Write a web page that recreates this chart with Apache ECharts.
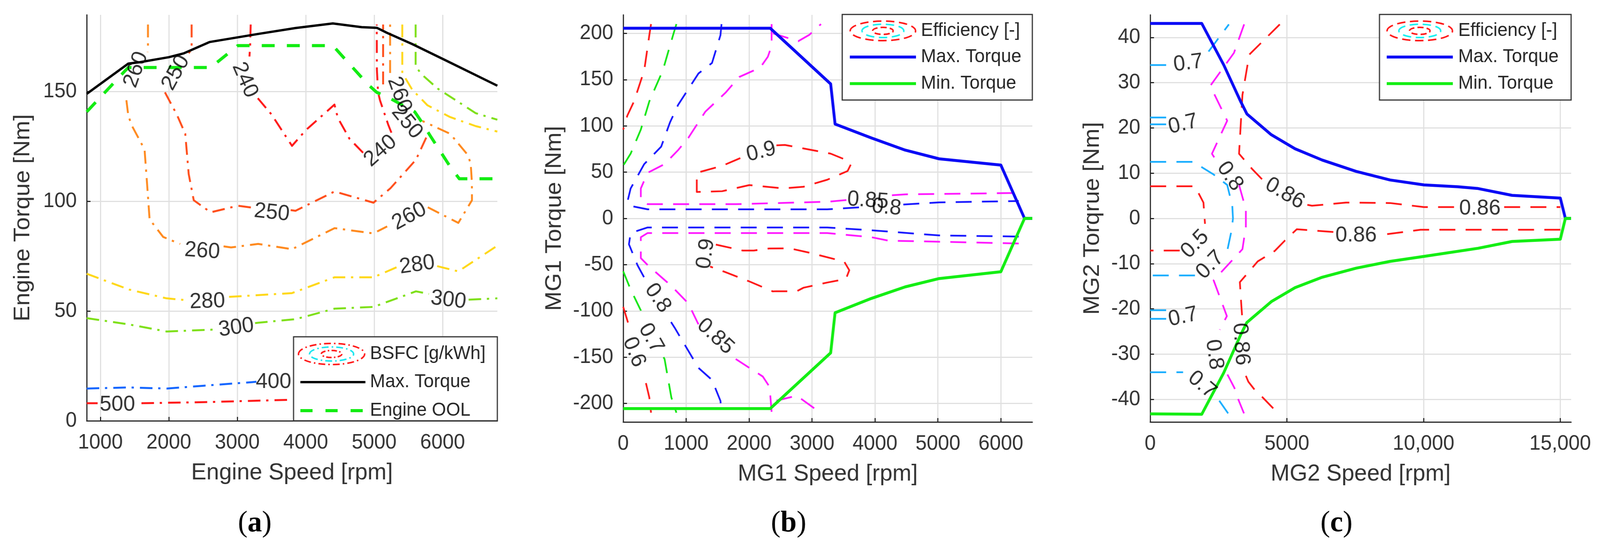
<!DOCTYPE html>
<html><head><meta charset="utf-8">
<script src="https://cdn.jsdelivr.net/npm/echarts@6/dist/echarts.min.js"></script>
<style>html,body{margin:0;padding:0;background:#fff;overflow:hidden}#c{width:4208px;height:1400px;transform-origin:0 0}</style>
</head><body><div id="c"></div>
<script>
// ---------------- DATA ----------------
// tick labels
const engSpeedTicks = [1000, 2000, 3000, 4000, 5000, 6000];
const engTorqueTicks = [0, 50, 100, 150];
const mg1SpeedTicks = [0, 1000, 2000, 3000, 4000, 5000, 6000];
const mg1TorqueTicks = [-200, -150, -100, -50, 0, 50, 100, 150, 200];
const mg2SpeedTicks = [0, 5000, 10000, 15000];
const mg2TorqueTicks = [-40, -30, -20, -10, 0, 10, 20, 30, 40];

// (a) engine
const engMaxTorque = [[800,149],[1408,162.8],[1574,163.4],[2000,165.7],[2222,167.5],[2593,172.6],[3305,176.3],[3851,179],[4396,181.1],[4817,179.4],[5039,179.1],[5187,176.8],[5556,171.7],[6022,164.6],[6800,152.7]];
const engOOL = [[800,140.8],[1370,159.8],[1408,161],[2611,161],[3008,171],[4396,171],[4909,153.3],[5037,149.7],[5241,146.8],[5593,140.8],[5685,136.6],[5815,130.1],[6111,115.8],[6244,110.3],[6800,110.3]];
const bsfc240 = [[3196,180.6],[3188,171],[3178,166],null,[3300,147],[3500,139.6],[3800,125.3],[4000,132.4],[4420,144.1],[4470,138],[4640,128.5],[4846,121.9],null,[5252,131.3],[5206,134.9],[5085,146.1],[5057,149.7],[5040,160],[5038,180.6]];
const bsfc250 = [[2333,180.6],[2333,169.3],[2290,167.5],null,[1943,149.7],[2116,139.6],[2240,130.8],[2290,112.5],[2364,100.5],[2611,95],[3008,98],[3250,97],null,[3780,96],[3851,95.7],[4421,104.5],[4990,99.4],[5239,106],[5611,119],[5778,130.2],null,[5131,153.3],[5131,180.6]];
const bsfc260 = [[1695,180.6],[1695,171],[1690,168],null,[1380,146.1],[1408,139],[1463,134.3],[1645,123.7],[1679,109.3],[1719,91.8],[1917,83.8],[2165,80.6],null,[2800,79.5],[2909,79],[3305,80.6],[3800,78.2],[4421,87.8],[4990,85.4],[5190,88.6],null,[5784,97.3],[6230,90.2],[6429,100.5],[6428,108.7],[6411,117],[6372,121],[6111,130.8],[5706,136.6],null,[5233,158.5],[5233,180.6]];
const bsfc280 = [[800,67],[1421,59.8],[1967,55.8],[2250,55],null,[2880,56.5],[2958,56.6],[3800,58.2],[4421,65.4],[4990,65.4],[5330,70],null,[5920,70.5],[6230,68.1],[6800,79.8],null,[5411,180.6],[5411,158.5],[5556,150.9],[5778,143.8],[6111,138.4],[6483,134.3],[6800,131.8]];
const bsfc300 = [[800,46.8],[1421,43.9],[1967,40.7],[2611,41.5],[2700,41.8],null,[3260,44.5],[3305,44.7],[3851,46.3],[4421,51.1],[4990,51.9],[5611,59],[5800,57.8],null,[6380,55.2],[6528,55.4],[6800,55.8],null,[5606,180.6],[5606,161.6],[5689,158],[5928,151.4],[6222,145.5],[6483,140.2],[6800,137.2]];
const bsfc400 = [[800,14.7],[1421,15.2],[1967,14.7],[2512,16],[3206,17.6],[3280,17.8]];
const bsfc500 = [[800,8],[960,8],null,[1600,8],[2512,8.5],[3800,9.6]];
// [speed, torque, text, angle]
const bsfcLabels = [
  [1521,160,'260',70],[2102,158.6,'250',61],[3110,155.3,'240',-66],[5093,123,'240',41],
  [5368,148.6,'260',-70],[5479,136.1,'250',-50],[3505,94.8,'250',-6],[2488,77.3,'260',-4],
  [5514,93.2,'260',28],[2563,54.3,'280',2],[5628,71,'280',8],[2985,42.4,'300',8],
  [6085,55,'300',-7],[3530,17.7,'400',0],[1248,7.4,'500',0]
];

// (b) MG1
const mg1MaxTorque = [[0,205.5],[2337,205.5],[3296,145.3],[3366,102],[3942,87],[4480,73.8],[5019,64.4],[6000,57.6],[6376,0],[6500,0]];
const mg1MinTorque = [[0,-205.5],[2337,-205.5],[3296,-145.3],[3366,-102],[3942,-86.5],[4480,-74],[5019,-65],[6000,-57.6],[6376,0],[6500,0]];
const mg1Eff06 = [[442,210],[415,198],[334,160],[172,126.5],[65,111],[0,96],null,[0,-95.6],[110,-120],null,[361,-178],[415,-193.5],[442,-210]];
const mg1Eff07 = [[845,210],[792,198],[630,160],[415,126.5],[280,96],[118,70],[0,57],null,[0,-57.2],[118,-76.8],[280,-99.4],[300,-108],null,[640,-150],[657,-152],[765,-193.5],[845,-210]];
const mg1Eff08 = [[1562,210],[1545,198],[1411,168],[1195,156.6],[872,122.7],[744,103.9],[603,77.5],[334,58.7],[118,32.4],[65,17.3],[118,13.5],[388,9.8],[3242,9.8],[3403,10.5],[3900,12.5],null,[4450,15],[5019,17.3],[6284,18.8],null,[6284,-19.6],[5019,-18.4],[3942,-12.8],[3242,-9.8],[388,-9.8],[118,-15.8],[91,-27.9],[226,-50.4],[350,-66],null,[760,-112],[818,-118.2],[1195,-161.5],[1411,-174.6],[1545,-197.2],[1562,-210]];
const mg1Eff085 = [[2358,210],[2358,186.5],[2298,174.7],[2177,163],[1842,152.8],[1626,135.9],[1303,115.2],[1034,87],[872,73.8],[657,58.7],[388,49.3],[280,32.4],[280,19.2],[388,15.4],[1788,15.4],[3242,18],[3580,20],null,[4270,25],[4480,26],[6284,27.5],null,[2380,200],[2569,196],[2780,191.5],[2961,198.6],[3142,210],null,[6284,-27.1],[4211,-24],[3942,-20.3],[3242,-15.8],[388,-15.8],[280,-20.3],[280,-42.9],[388,-50.4],[765,-73],[1034,-91.8],[1195,-114.4],null,[1788,-152],[2218,-170.9],[2326,-182.2],[2359,-210],null,[2434,-197],[2757,-191.6],[3134,-210]];
const mg1Eff09 = [[2434,79],[2569,79.4],[2865,75.6],[3296,70],[3565,62.5],[3619,58.7],[3565,51.2],[3242,41.8],[2865,34.2],[2542,32.4],[2003,36],[1572,29.4],[1169,28.6],[1169,49.3],[1572,56.8],[1896,66.2],[1949,68],null,[1472,-28.3],[1894,-34.7],[2075,-34.7],[2316,-32.5],[2649,-32.4],[2973,-37.3],[3511,-46.7],[3592,-56],[3538,-65.5],[3242,-69.3],[2865,-74.9],[2757,-78.7],[2434,-78.7],[2376,-78.9],[2015,-68.4],[1614,-57.8],[1381,-52]];
const mg1Labels = [
  [2192,71.9,'0.9',14],[3888,19.2,'0.85',-4],[4184,11.7,'0.8',-5],[1313,-38.2,'0.9',82],
  [549,-86.2,'0.8',-55],[1465,-127.6,'0.85',-42],[442,-129.5,'0.7',-60],[172,-144.5,'0.6',-68]
];

// (c) MG2
const mg2MaxTorque = [[0,43.1],[1886,43.1],[2693,33.9],[3313,25.8],[3537,23.1],[4430,18.5],[5299,15.4],[6292,12.9],[7533,10.4],[8774,8.5],[10015,7.4],[11256,7.0],[12000,6.6],[13241,5.1],[15004,4.5],[15190,0],[15400,0]];
const mg2MinTorque = [[0,-43.2],[1886,-43.3],[2693,-34.1],[3313,-25.7],[3537,-23],[4430,-18.4],[5299,-15.3],[6292,-13],[7533,-11],[8774,-9.5],[10015,-8.4],[12000,-6.6],[13241,-5.1],[15004,-4.6],[15190,0],[15400,0]];
const mg2Eff05 = [[0,7.1],[1638,7.1],[1948,3.5],[2005,-1.2],null,[1080,-7.1],[0,-7.1]];
const mg2Eff07 = [[0,33.9],[645,33.9],null,[2135,36.9],[2879,42.9],null,[0,22.3],[700,22.3],null,[0,20.8],[600,20.8],null,[0,12.5],[1576,12.5],[2321,9.7],[2817,7.4],[3003,2.8],[3028,0],[2978,-2.6],[2817,-7.2],null,[1638,-12.6],[0,-12.6],null,[0,-20.3],[600,-20.3],null,[0,-22.2],[650,-22.2],null,[0,-34],[1204,-34],null,[2527,-40.3],[2851,-43.1]];
const mg2Eff08 = [[3437,42.9],[3065,36.6],[2197,29.3],[2817,21.6],[2259,14.3],[2450,12.5],null,[3251,7.4],[3500,2],[3500,-1.8],[3375,-6.8],[2321,-13.7],[2805,-21.6],[2546,-24.6],null,[2826,-34.5],[3083,-37.5],[3222,-40],[3431,-43.1]];
const mg2Eff086 = [[4741,42.9],[3624,36.2],[3375,27.3],[3251,14.3],[3748,10.8],[4100,8.6],null,[5750,3],[5920,2.8],[7161,3.5],[8774,3.4],[10015,2.5],[11200,2.5],null,[12950,2.5],[15004,2.5],null,[15004,-2.5],[9891,-2.5],[8650,-3.5],[8400,-3.7],null,[6700,-3],[5361,-2.4],[4927,-4.9],[4555,-7.2],[3934,-9.5],[3280,-14.1],[3340,-19.7],[3361,-21.4],null,[3500,-34.8],[3590,-36.1],[3798,-37.7],[4103,-39.5],[4520,-42.1]];
const mg2Labels = [
  [1390,34.3,'0.7',7],[1204,20.8,'0.7',13],[2916,9.3,'0.8',-55],[4927,5.5,'0.86',-30],
  [12062,2.2,'0.86',0],[7533,-3.8,'0.86',0],[1638,-5.7,'0.5',45],[2197,-10.3,'0.7',45],
  [1204,-21.8,'0.7',12],[2341,-30.1,'0.8',-82],[3314,-27.8,'0.86',-86],[1900,-36.8,'0.7',-40]
];

// ---------------- CHART ----------------
// fit the 4208x1400 drawing into the actual viewport
(function () {
  const el = document.getElementById('c');
  const sx = Math.min(1, window.innerWidth / 4208);
  const sy = Math.min(1, window.innerHeight / 1400);
  el.style.transform = 'scale(' + sx + ',' + sy + ')';
})();

const F = 'Liberation Sans, Arial, Helvetica, sans-serif';
const DASH = [42, 27];
const DASHDOT = [33, 15, 6, 16];
const series = [];

function addLine(ax, pts, color, width, dash, z) {
  let seg = [];
  const flush = () => {
    if (seg.length > 1) {
      series.push({
        type: 'line', xAxisIndex: ax, yAxisIndex: ax, data: seg,
        showSymbol: false, symbol: 'none', silent: true, animation: false, z: z,
        lineStyle: { color: color, width: width, type: dash || 'solid', cap: 'butt', join: 'round' }
      });
    }
    seg = [];
  };
  pts.forEach(p => { if (p === null) flush(); else seg.push(p); });
  flush();
}
function addLabels(ax, arr) {
  series.push({
    type: 'scatter', xAxisIndex: ax, yAxisIndex: ax, symbol: 'circle', symbolSize: 1,
    itemStyle: { color: 'rgba(0,0,0,0)' }, silent: true, animation: false, z: 6,
    data: arr.map(d => ({ value: [d[0], d[1]], name: d[2], label: { rotate: d[3] } })),
    label: { show: true, position: 'inside', formatter: p => p.name, color: '#000',
             fontSize: 56, fontFamily: F }
  });
}

// (a)
addLine(0, bsfc500, '#ff1a1a', 5, DASHDOT, 2);
addLine(0, bsfc400, '#1466ff', 5, DASHDOT, 2);
addLine(0, bsfc300, '#7fe01a', 5, DASHDOT, 2);
addLine(0, bsfc280, '#ffd81a', 5, DASHDOT, 2);
addLine(0, bsfc260, '#ff8a1f', 5, DASHDOT, 2);
addLine(0, bsfc250, '#ff4f1c', 5, DASHDOT, 2);
addLine(0, bsfc240, '#ff1a1a', 5, DASHDOT, 2);
addLine(0, engMaxTorque, '#000000', 6, 'solid', 3);
addLine(0, engOOL, '#12ec12', 8, [34, 32], 4);
addLabels(0, bsfcLabels);
// (b)
addLine(1, mg1Eff06, '#ff1a1a', 4.5, DASH, 2);
addLine(1, mg1Eff07, '#14e614', 4.5, DASH, 2);
addLine(1, mg1Eff08, '#1a1aff', 4.5, DASH, 2);
addLine(1, mg1Eff085, '#ff1aff', 4.5, DASH, 2);
addLine(1, mg1Eff09, '#ff1a1a', 4.5, DASH, 2);
addLine(1, mg1MaxTorque, '#0c0cf5', 7.5, 'solid', 3);
addLine(1, mg1MinTorque, '#14ee14', 7.5, 'solid', 4);
addLabels(1, mg1Labels);
// (c)
addLine(2, mg2Eff05, '#ff1a1a', 4.5, DASH, 2);
addLine(2, mg2Eff07, '#1aaeff', 4.5, DASH, 2);
addLine(2, mg2Eff08, '#ff1aff', 4.5, DASH, 2);
addLine(2, mg2Eff086, '#ff1a1a', 4.5, DASH, 2);
addLine(2, mg2MaxTorque, '#0c0cf5', 7.5, 'solid', 3);
addLine(2, mg2MinTorque, '#14ee14', 7.5, 'solid', 4);
addLabels(2, mg2Labels);

function withComma(v) { return v >= 10000 ? String(v).replace(/\B(?=(\d{3})+(?!\d))/g, ',') : String(v); }

function mkX(g, min, max, ticks, name, fmt) {
  return {
    type: 'value', gridIndex: g, min: min, max: max, name: name,
    nameLocation: 'middle', nameGap: 103,
    nameTextStyle: { fontSize: 60, color: '#333', fontFamily: F },
    axisLine: { show: true, onZero: false, lineStyle: { color: '#262626', width: 3 } },
    axisTick: { show: true, inside: true, length: 10, customValues: ticks, lineStyle: { color: '#262626', width: 3 } },
    axisLabel: { show: true, customValues: ticks, fontSize: 53, color: '#333', margin: 30, fontFamily: F,
                 formatter: fmt || (v => String(v)) },
    splitLine: { show: true, lineStyle: { color: '#e0e0e0', width: 3 } }
  };
}
function mkY(g, min, max, ticks, name, gap) {
  return {
    type: 'value', gridIndex: g, min: min, max: max, name: name,
    nameLocation: 'middle', nameGap: gap,
    nameTextStyle: { fontSize: 60, color: '#333', fontFamily: F },
    axisLine: { show: true, onZero: false, lineStyle: { color: '#262626', width: 3 } },
    axisTick: { show: true, inside: true, length: 10, customValues: ticks, lineStyle: { color: '#262626', width: 3 } },
    axisLabel: { show: true, customValues: ticks, fontSize: 53, color: '#333', margin: 26, fontFamily: F,
                 formatter: v => String(v) },
    splitLine: { show: true, lineStyle: { color: '#e0e0e0', width: 3 } }
  };
}

// legend boxes + captions (decoration)
const G = [];
function rect(x, y, w, h) { G.push({ type: 'rect', z: 100, shape: { x: x, y: y, width: w, height: h }, style: { fill: '#fff', stroke: '#333', lineWidth: 3 } }); }
function ell(cx, cy, rx, ry, color, dash, lw) { G.push({ type: 'ellipse', z: 101, shape: { cx: cx, cy: cy, rx: rx, ry: ry }, style: { fill: 'none', stroke: color, lineWidth: lw, lineDash: dash } }); }
function seg(x1, y, x2, color, lw, dash) { G.push({ type: 'line', z: 101, shape: { x1: x1, y1: y, x2: x2, y2: y }, style: { stroke: color, lineWidth: lw, lineDash: dash || null } }); }
function txt(x, y, s) { G.push({ type: 'text', z: 101, x: x, y: y, style: { text: s, fontSize: 48, fontFamily: F, fill: '#262626', align: 'left', verticalAlign: 'middle' } }); }
function cap(x, y, letter) {
  G.push({ type: 'text', z: 101, x: x, y: y, style: {
    text: '{p|(}{b|' + letter + '}{p|)}', align: 'center', verticalAlign: 'middle',
    rich: { p: { fontFamily: 'Liberation Serif, Times New Roman, serif', fontSize: 76, fill: '#000' },
            b: { fontFamily: 'Liberation Serif, Times New Roman, serif', fontSize: 76, fontWeight: 'bold', fill: '#000' } } } });
}

// legend (a)
rect(772, 862, 536, 215);
ell(872, 906, 87, 27, '#ff1a1a', [18, 8, 4, 8], 4);
ell(872, 906, 58, 18, '#1ae6f0', [18, 8, 4, 8], 4);
ell(872, 906, 27, 9, '#ff1a1a', [14, 6, 4, 6], 4);
txt(973, 906, 'BSFC [g/kWh]');
seg(790, 978, 961, '#000', 6);
txt(973, 978, 'Max. Torque');
seg(790, 1051, 961, '#12ec12', 8, [32, 34]);
txt(973, 1051, 'Engine OOL');
// legend (b)
rect(2215, 37, 500, 219);
ell(2322, 79, 86, 25, '#ff1a1a', [22, 12], 4);
ell(2322, 79, 55, 17, '#19f0f0', [22, 12], 4);
ell(2322, 79, 27, 9, '#ff1a1a', [16, 8], 4);
txt(2422, 79, 'Efficiency [-]');
seg(2235, 146, 2409, '#0c0cf5', 7.5);
txt(2422, 146, 'Max. Torque');
seg(2235, 214, 2409, '#14ee14', 7.5);
txt(2422, 214, 'Min. Torque');
// legend (c)
rect(3628, 37, 504, 219);
ell(3734, 79, 86, 25, '#ff1a1a', [22, 12], 4);
ell(3734, 79, 55, 17, '#19f0f0', [22, 12], 4);
ell(3734, 79, 27, 9, '#ff1a1a', [16, 8], 4);
txt(3835, 79, 'Efficiency [-]');
seg(3647, 146, 3821, '#0c0cf5', 7.5);
txt(3835, 146, 'Max. Torque');
seg(3647, 214, 3821, '#14ee14', 7.5);
txt(3835, 214, 'Min. Torque');
// captions
cap(670, 1340, 'a');
cap(2074, 1340, 'b');
cap(3515, 1340, 'c');

const option = {
  animation: false,
  backgroundColor: '#ffffff',
  textStyle: { fontFamily: F },
  grid: [
    { left: 228, top: 38, width: 1080, height: 1039 },
    { left: 1639, top: 38, width: 1076, height: 1042 },
    { left: 3025, top: 38, width: 1107, height: 1042 }
  ],
  xAxis: [
    mkX(0, 800, 6800, engSpeedTicks, 'Engine Speed [rpm]'),
    mkX(1, 0, 6500, mg1SpeedTicks, 'MG1 Speed [rpm]'),
    mkX(2, 0, 15400, mg2SpeedTicks, 'MG2 Speed [rpm]', withComma)
  ],
  yAxis: [
    mkY(0, 0, 185, engTorqueTicks, 'Engine Torque [Nm]', 138),
    mkY(1, -220, 220, mg1TorqueTicks, 'MG1 Torque [Nm]', 151),
    mkY(2, -45, 45, mg2TorqueTicks, 'MG2 Torqrue [Nm]', 122)
  ],
  series: series,
  graphic: G
};
const chart = echarts.init(document.getElementById('c'), null, { renderer: 'canvas', width: 4208, height: 1400 });
chart.setOption(option);
</script></body></html>
